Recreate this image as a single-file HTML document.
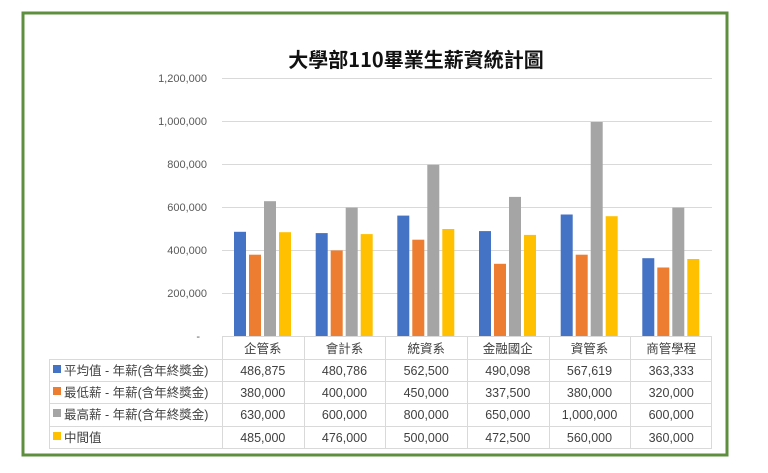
<!DOCTYPE html><html><head><meta charset="utf-8"><style>
body{margin:0;background:#fff;width:768px;height:468px;overflow:hidden}
svg text{font-family:"Liberation Sans","Noto Sans CJK TC",sans-serif}
</style></head><body>
<svg width="768" height="468" xmlns="http://www.w3.org/2000/svg">
<rect x="23" y="13" width="704" height="442" fill="#fff" stroke="#5e8f3e" stroke-width="3"/>
<text x="416" y="67" font-size="20" text-anchor="middle" fill="#111" font-weight="bold" style="font-family:'Noto Sans CJK TC',sans-serif">大學部110畢業生薪資統計圖</text>
<g stroke="#d9d9d9" stroke-width="1">
<line x1="222" x2="712" y1="78.5" y2="78.5"/><line x1="222" x2="712" y1="121.5" y2="121.5"/><line x1="222" x2="712" y1="164.5" y2="164.5"/><line x1="222" x2="712" y1="207.5" y2="207.5"/><line x1="222" x2="712" y1="250.5" y2="250.5"/><line x1="222" x2="712" y1="293.5" y2="293.5"/>
</g>
<g font-size="11" fill="#595959" text-anchor="end">
<text x="207" y="82">1,200,000</text><text x="207" y="125">1,000,000</text><text x="207" y="168">800,000</text><text x="207" y="211">600,000</text><text x="207" y="254">400,000</text><text x="207" y="297">200,000</text><text x="200" y="340">-</text>
</g>
<g>
<rect x="234" y="231.8" width="12" height="104.2" fill="#4472c4"/><rect x="249" y="254.7" width="12" height="81.3" fill="#ed7d31"/><rect x="264" y="201.2" width="12" height="134.8" fill="#a5a5a5"/><rect x="279" y="232.2" width="12" height="103.8" fill="#ffc000"/>
<rect x="315.7" y="233.1" width="12" height="102.9" fill="#4472c4"/><rect x="330.7" y="250.4" width="12" height="85.6" fill="#ed7d31"/><rect x="345.7" y="207.6" width="12" height="128.4" fill="#a5a5a5"/><rect x="360.7" y="234.1" width="12" height="101.9" fill="#ffc000"/>
<rect x="397.3" y="215.6" width="12" height="120.4" fill="#4472c4"/><rect x="412.3" y="239.7" width="12" height="96.3" fill="#ed7d31"/><rect x="427.3" y="164.8" width="12" height="171.2" fill="#a5a5a5"/><rect x="442.3" y="229" width="12" height="107" fill="#ffc000"/>
<rect x="479" y="231.1" width="12" height="104.9" fill="#4472c4"/><rect x="494" y="263.8" width="12" height="72.2" fill="#ed7d31"/><rect x="509" y="196.9" width="12" height="139.1" fill="#a5a5a5"/><rect x="524" y="234.9" width="12" height="101.1" fill="#ffc000"/>
<rect x="560.7" y="214.5" width="12" height="121.5" fill="#4472c4"/><rect x="575.7" y="254.7" width="12" height="81.3" fill="#ed7d31"/><rect x="590.7" y="122" width="12" height="214" fill="#a5a5a5"/><rect x="605.7" y="216.2" width="12" height="119.8" fill="#ffc000"/>
<rect x="642.3" y="258.2" width="12" height="77.8" fill="#4472c4"/><rect x="657.3" y="267.5" width="12" height="68.5" fill="#ed7d31"/><rect x="672.3" y="207.6" width="12" height="128.4" fill="#a5a5a5"/><rect x="687.3" y="259" width="12" height="77" fill="#ffc000"/>
</g>
<g stroke="#d9d9d9" stroke-width="1" fill="none">
<line x1="222" x2="712" y1="336.5" y2="336.5"/>
<line x1="49" x2="712" y1="359.5" y2="359.5"/><line x1="49" x2="712" y1="381.5" y2="381.5"/><line x1="49" x2="712" y1="403.5" y2="403.5"/><line x1="49" x2="712" y1="426.5" y2="426.5"/><line x1="49" x2="712" y1="448.5" y2="448.5"/>
<line x1="49.5" x2="49.5" y1="359" y2="449"/>
<line x1="222.5" x2="222.5" y1="336" y2="449"/><line x1="304.5" x2="304.5" y1="336" y2="449"/><line x1="385.5" x2="385.5" y1="336" y2="449"/><line x1="467.5" x2="467.5" y1="336" y2="449"/><line x1="549.5" x2="549.5" y1="336" y2="449"/><line x1="630.5" x2="630.5" y1="336" y2="449"/><line x1="711.5" x2="711.5" y1="336" y2="449"/>
</g>
<g font-size="12.5" fill="#404040" text-anchor="middle">
<text x="262.8" y="353">企管系</text><text x="344.5" y="353">會計系</text><text x="426.2" y="353">統資系</text><text x="507.8" y="353">金融國企</text><text x="589.5" y="353">資管系</text><text x="671.2" y="353">商管學程</text>
<text x="262.8" y="375">486,875</text><text x="344.5" y="375">480,786</text><text x="426.2" y="375">562,500</text><text x="507.8" y="375">490,098</text><text x="589.5" y="375">567,619</text><text x="671.2" y="375">363,333</text>
<text x="262.8" y="397">380,000</text><text x="344.5" y="397">400,000</text><text x="426.2" y="397">450,000</text><text x="507.8" y="397">337,500</text><text x="589.5" y="397">380,000</text><text x="671.2" y="397">320,000</text>
<text x="262.8" y="419">630,000</text><text x="344.5" y="419">600,000</text><text x="426.2" y="419">800,000</text><text x="507.8" y="419">650,000</text><text x="589.5" y="419">1,000,000</text><text x="671.2" y="419">600,000</text>
<text x="262.8" y="442">485,000</text><text x="344.5" y="442">476,000</text><text x="426.2" y="442">500,000</text><text x="507.8" y="442">472,500</text><text x="589.5" y="442">560,000</text><text x="671.2" y="442">360,000</text>
</g>
<g font-size="12.5" fill="#404040">
<rect x="53" y="365" width="8" height="8" fill="#4472c4"/><text x="64" y="375">平均值 - 年薪(含年終獎金)</text>
<rect x="53" y="387" width="8" height="8" fill="#ed7d31"/><text x="64" y="397">最低薪 - 年薪(含年終獎金)</text>
<rect x="53" y="409" width="8" height="8" fill="#a5a5a5"/><text x="64" y="419">最高薪 - 年薪(含年終獎金)</text>
<rect x="53" y="432" width="8" height="8" fill="#ffc000"/><text x="64" y="442">中間值</text>
</g>
</svg></body></html>
